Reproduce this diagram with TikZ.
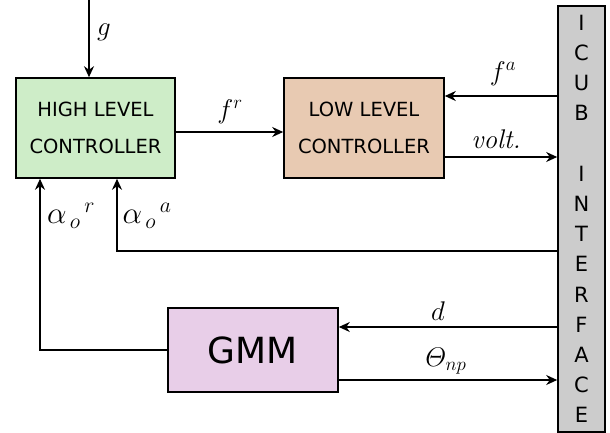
\RequirePackage{fix-cm}
\documentclass[tikz,border=0pt]{standalone}
\usepackage{amsmath}
\usepackage{fontspec}
\newfontfamily\boxfont{DejaVu Sans}
\usetikzlibrary{arrows.meta}
\definecolor{hlcfill}{RGB}{206,237,200}
\definecolor{llcfill}{RGB}{232,202,178}
\definecolor{gmmfill}{RGB}{232,206,232}
\definecolor{barfill}{RGB}{204,204,204}
\begin{document}
\begin{tikzpicture}[x=1pt,y=-1pt,
  blk/.style={draw=black, line width=1.6pt, inner sep=0pt, align=center},
  boxtxt/.style={font=\boxfont\fontsize{19.5}{37}\selectfont},
  arr/.style={line width=1.5pt, -{Stealth[length=11pt,width=10pt]}},
  lbl/.style={font=\fontsize{27}{27}\selectfont, inner sep=0pt},
  albl/.style={font=\fontsize{31}{31}\selectfont, inner sep=0pt}]
\useasboundingbox (0,0) rectangle (610,433);
\node[blk, boxtxt, fill=hlcfill, minimum width=159pt, minimum height=100pt] (hlc) at (95.5,128) {HIGH LEVEL\\CONTROLLER};
\node[blk, boxtxt, fill=llcfill, minimum width=160pt, minimum height=100pt] (llc) at (364,128) {LOW LEVEL\\CONTROLLER};
\node[blk, fill=gmmfill, minimum width=170pt, minimum height=84pt, font=\boxfont\fontsize{36}{36}\selectfont] (gmm) at (253,350) {GMM};
\node[blk, fill=barfill, minimum width=47pt, minimum height=426pt, font=\boxfont\fontsize{21}{30.2}\selectfont] (bar) at (581.5,219) {I\\C\\U\\B\\\mbox{}\\I\\N\\T\\E\\R\\F\\A\\C\\E};
\coordinate (gtop) at (89,0);
\draw[arr] (gtop) -- (gtop |- hlc.north);
\node[lbl] (gl) at (104,32) {$g$};
\draw[arr] ([yshift=-4pt]hlc.east) -- ([yshift=-4pt]hlc.east -| llc.west);
\node[lbl] (frl) at (230,112) {$f^{r}$};
\draw[arr] (bar.west |- 0,96) -- (llc.east |- 0,96);
\node[lbl] (fal) at (503,74) {$f^{a}$};
\draw[arr] (llc.east |- 0,157) -- (bar.west |- 0,157);
\node[lbl] (vl) at (496,139) {\textit{volt.}};
\coordinate (aa) at (117,251);
\draw[arr] (bar.west |- aa) -- (aa) -- (aa |- hlc.south);
\node[albl] (aal) at (147,216) {$\alpha_{\,o}{}^{\,a}$};
\coordinate (ar) at (40,350);
\draw[arr] (gmm.west) -- (ar) -- (ar |- hlc.south);
\node[albl] (arl) at (71,216) {$\alpha_{\,o}{}^{\,r}$};
\draw[arr] (bar.west |- 0,327) -- (gmm.east |- 0,327);
\node[lbl] (dl) at (438,311) {$d$};
\draw[arr] (gmm.east |- 0,380) -- (bar.west |- 0,380);
\node[lbl] (tl) at (446,361) {$\varTheta_{np}$};
\end{tikzpicture}
\end{document}
